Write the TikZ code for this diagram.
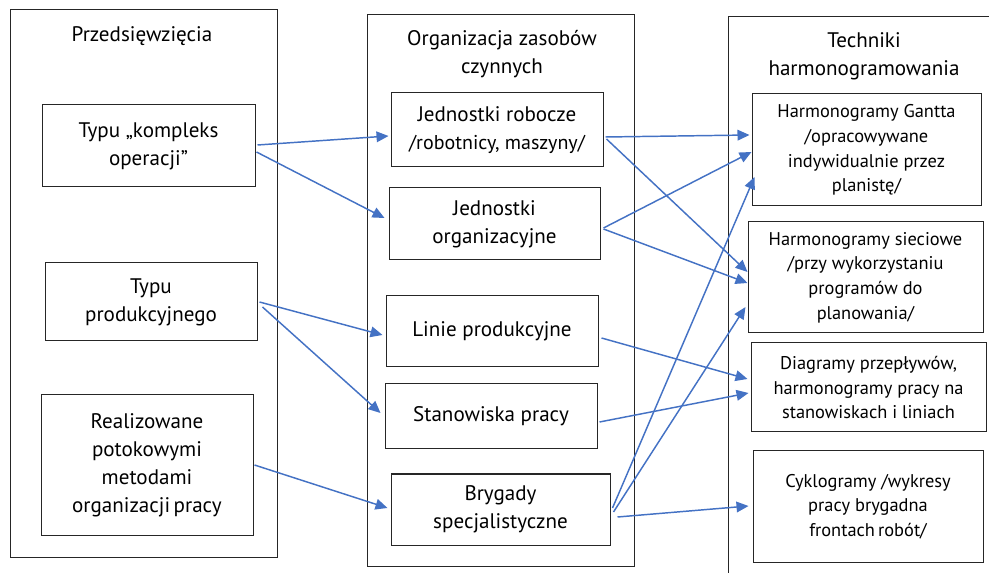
\documentclass[tikz,border=0pt]{standalone}
\usepackage{fontspec}
\setmainfont{PT Sans}
\usepackage{tikz}
\usetikzlibrary{arrows.meta,calc}
\usetikzlibrary{positioning}
\definecolor{linkblue}{RGB}{68,114,196}

\begin{document}
\begin{tikzpicture}[x=0.75pt,y=-0.75pt,>={Triangle[length=9pt,width=8pt]},
  txt/.style={font=\fontsize{15.8}{21}\selectfont,align=center},
  smalltxt/.style={font=\fontsize{13.8}{18.5}\selectfont,align=center},
  frame/.style 2 args={draw=black!85,line width=0.75pt,inner sep=0pt,
    minimum width=#1*0.75pt,minimum height=#2*0.75pt},
  link/.style={->,draw=linkblue,line width=1.1pt}]
  \clip (0,0) rectangle (989,573);
  % columns
  \node[frame={267}{547}] (colA) at (143.5,283.5) {};
  \node[frame={267}{551}] (colB) at (500.5,290.5) {};
  \node[frame={300}{600}] (colC) at (878,317) {};
  \node[txt] (hA) at (142,36) {Przedsięwzięcia};
  \node[txt] (hB) at (502,54) {Organizacja zasobów\\czynnych};
  \node[txt] (hC) at (864,56) {Techniki\\harmonogramowania};
  % Przedsiewziecia
  \node[frame={213}{82},txt] (a1) at (148.5,146) {Typu „kompleks\\operacji”};
  \node[frame={212}{78},txt] (a2) at (151,302) {Typu\\produkcyjnego};
  \node[frame={212}{140},txt] (a3) at (147,465)
    {Realizowane\\potokowymi\\metodami\\organizacji\,pracy};
  % zasoby
  \node[frame={212}{74},txt] (b1) at (497,130)
    {Jednostki robocze\\{\fontsize{15}{21}\selectfont /robotnicy, maszyny/}};
  \node[frame={211}{72},txt] (b2) at (494.5,224) {Jednostki\\organizacyjne};
  \node[frame={212}{71},txt] (b3) at (492,331.5) {Linie produkcyjne};
  \node[frame={212}{65},txt] (b4) at (491,416.5) {Stanowiska pracy};
  \node[frame={219}{71},txt] (b5) at (500.5,509.5) {Brygady\\specjalistyczne};
  % techniki
  \node[frame={229}{112},smalltxt] (c1) at (866.5,150)
    {Harmonogramy Gantta\\/opracowywane\\indywidualnie przez\\planistę/};
  \node[frame={235}{111},smalltxt] (c2) at (865.5,277.5)
    {Harmonogramy sieciowe\\/przy wykorzystaniu\\programów do\\planowania/};
  \node[frame={235}{89},smalltxt] (c3) at (868.5,387.5)
    {Diagramy przepływów,\\harmonogramy pracy na\\stanowiskach i liniach};
  \node[frame={230}{111},smalltxt] (c4) at (868,506.5)
    {Cyklogramy /wykresy\\pracy brygadna\\frontach\,robót/};
  % arrows
  \draw[link] ($(a1.east)+(2,-1)$) -- ($(b1.west)+(-2,6)$);
  \draw[link] ($(a1.east)+(1,6)$) -- ($(b2.west)+(-4,-6)$);
  \draw[link] ($(a2.east)+(2,0)$) -- ($(b3.west)+(-3,3.5)$);
  \draw[link] ($(a2.east)+(5,5)$) -- ($(b4.west)+(-4,-3.5)$);
  \draw[link] ($(a3.east)+(1,0)$) -- ($(b5.west)+(-3,-1.5)$);
  \draw[link] ($(b1.east)+(2,7)$) -- ($(c1.west)+(-2,-15)$);
  \draw[link] ($(b1.east)+(3,9)$) -- ($(c2.west)+(0,-5.5)$);
  \draw[link] ($(b2.east)+(3,4)$) -- ($(c1.west)+(0,2)$);
  \draw[link] ($(b2.east)+(3,5)$) -- ($(c2.west)+(0,5.5)$);
  \draw[link] ($(b3.east)+(3,6.5)$) -- ($(c3.west)+(-3,-8.5)$);
  \draw[link] ($(b4.east)+(2,5.5)$) -- ($(c3.west)+(-2,5.5)$);
  \draw[link] ($(b5.east)+(2,-1.5)$) -- ($(c1.west)+(3,27)$);
  \draw[link] ($(b5.east)+(3,2.5)$) -- ($(c2.west)+(-2,29.5)$);
  \draw[link] ($(b5.east)+(7,7.5)$) -- ($(c4.west)+(-4,-0.5)$);
\end{tikzpicture}
\end{document}
